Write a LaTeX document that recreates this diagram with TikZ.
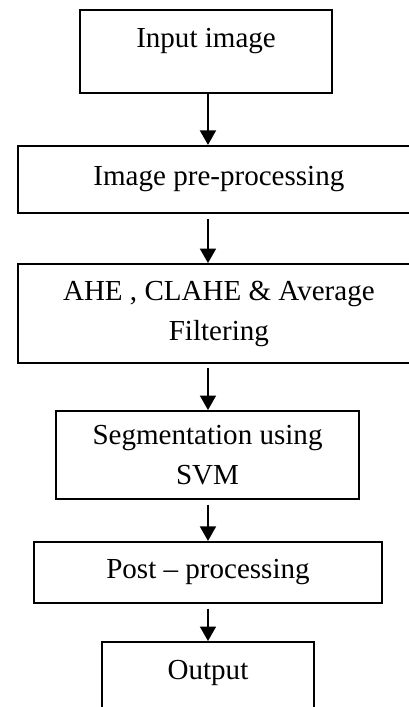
\documentclass[tikz,border=0pt]{standalone}
\usepackage{fontspec}
\setmainfont{Liberation Serif}
\usetikzlibrary{arrows.meta}

\begin{document}
\begin{tikzpicture}[x=1pt, y=1pt, font=\fontsize{12}{16.5}\selectfont,
  flowbox/.style={rectangle, draw, line width=0.8pt, align=center, inner sep=2pt},
  flowarrow/.style={-{Triangle[length=6pt,width=6.6pt]}, line width=0.8pt}]
  \useasboundingbox (0,0) rectangle (168.9,-292);
  \clip (0,0) rectangle (168.9,-292);
  \coordinate (axis) at (85.9,0);
  \node[flowbox, minimum width=104.1pt, minimum height=34.3pt, text depth=11pt]
    (input) at (85.1,-21.3) {Input image};
  \node[flowbox, minimum width=166pt, minimum height=27.7pt]
    (preproc) at (90.4,-74.1) {Image pre-processing};
  \node[flowbox, minimum width=166pt, minimum height=40.9pt]
    (filter) at (90.4,-129.5) {AHE , CLAHE \& Average\\Filtering};
  \node[flowbox, minimum width=125.1pt, minimum height=36.3pt]
    (segment) at (85.7,-187.9) {Segmentation using\\SVM};
  \node[flowbox, minimum width=143.7pt, minimum height=25.2pt]
    (postproc) at (85.9,-236.4) {Post – processing};
  \node[flowbox, minimum width=87.6pt, minimum height=34.3pt, text depth=11pt]
    (output) at (85.9,-282.3) {Output};
  \draw[flowarrow] (input.south -| axis) -- (preproc.north -| axis);
  \draw[flowarrow, shorten <=2pt] (preproc.south -| axis) -- (filter.north -| axis);
  \draw[flowarrow, shorten <=1.6pt] (filter.south -| axis) -- (segment.north -| axis);
  \draw[flowarrow, shorten <=2pt] (segment.south -| axis) -- (postproc.north -| axis);
  \draw[flowarrow, shorten <=2pt] (postproc.south -| axis) -- (output.north -| axis);
\end{tikzpicture}
\end{document}
